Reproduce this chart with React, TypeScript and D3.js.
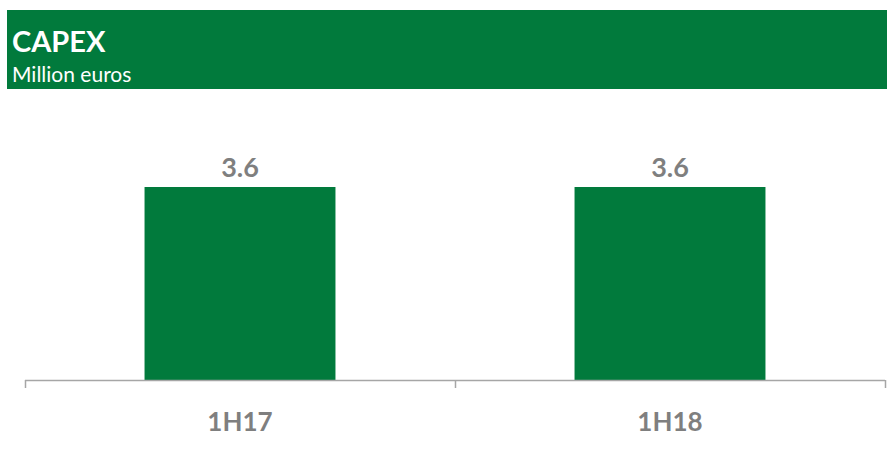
import React from 'react';
import * as d3 from 'd3';

const categories = ['1H17', '1H18'];
const values = [3.6, 3.6];
const title = 'CAPEX';
const subtitle = 'Million euros';

const W = 895;
const H = 450;
const green = '#017a3c';
const grey = '#7f7f7f';
const font = 'Lato, "Open Sans", sans-serif';

export default function App() {
    const x = d3.scaleBand<string>()
        .domain(categories)
        .range([25, 885])
        .paddingInner(0.556)
        .paddingOuter(0.278);

    const y = d3.scaleLinear()
        .domain([0, 4])
        .range([380, 380 - (193 / 3.6) * 4]);

    const step = x.step();
    const tickXs = [25, ...categories.map((c, i) => 25 + step * (i + 1))];

    return (
        <div style={{ position: 'fixed', left: 0, top: 0 }}>
            <svg width={W} height={H} style={{ display: 'block', fontFamily: font }}>
                <rect x={0} y={0} width={W} height={H} fill="#fff" />
                <rect x={7} y={10} width={880} height={79} fill={green} />
                <text x={12} y={52} fill="#fff" fontSize={29} fontWeight={700}>{title}</text>
                <text x={12} y={82} fill="#fff" fontSize={21}>{subtitle}</text>

                {categories.map((c, i) => (
                    <g key={c}>
                        <rect x={x(c)} y={y(values[i])} width={x.bandwidth()}
                            height={y(0) - y(values[i])} fill={green} />
                        <text x={(x(c) || 0) + x.bandwidth() / 2} y={y(values[i]) - 10}
                            textAnchor="middle" fill={grey} fontSize={27} fontWeight={700}>
                            {values[i].toFixed(1)}
                        </text>
                        <text x={(x(c) || 0) + x.bandwidth() / 2} y={431}
                            textAnchor="middle" fill={grey} fontSize={26} fontWeight={700}>
                            {c}
                        </text>
                    </g>
                ))}

                <line x1={25} x2={885} y1={y(0) + 0.5} y2={y(0) + 0.5} stroke="#a6a6a6" strokeWidth={1.5} />
                {tickXs.map((t, i) => (
                    <line key={i} x1={t + 0.5} x2={t + 0.5} y1={y(0)} y2={y(0) + 8} stroke="#a6a6a6" strokeWidth={1.5} />
                ))}
            </svg>
        </div>
    );
}
